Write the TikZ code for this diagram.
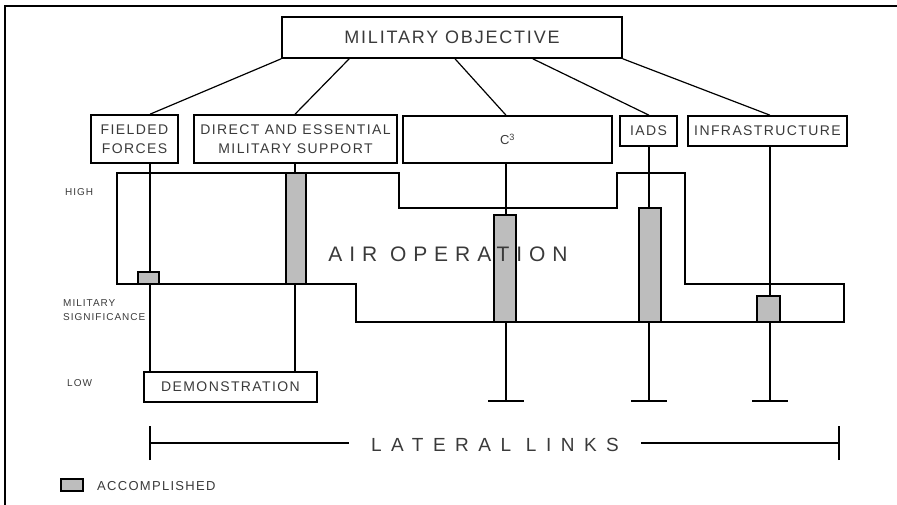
\documentclass[tikz,border=0pt]{standalone}
\usepackage{fontspec}
\setmainfont[LetterSpace=10]{Liberation Sans}
\newfontfamily\airfont[LetterSpace=33]{Liberation Sans}
\newfontfamily\latfont[LetterSpace=50]{Liberation Sans}
\usepackage{tikz}
\usetikzlibrary{calc,positioning}
\definecolor{InkGray}{HTML}{3A3A3A}
\definecolor{AccFill}{HTML}{BDBDBD}
\newcommand{\fsz}[2]{\fontsize{#1}{#2}\selectfont}

\begin{document}
\begin{tikzpicture}[x=1pt, y=-1pt,
  bx/.style={draw, line width=1.6pt, align=center, inner sep=0pt,
             text=InkGray, font=\fsz{14}{19}},
  acc/.style={draw, line width=1.4pt, fill=AccFill, inner sep=0pt},
  lnk/.style={line width=1.2pt},
  side/.style={font=\fsz{10}{14}, text=InkGray, align=left, anchor=west, inner sep=0pt}]
  \useasboundingbox (0,0) rectangle (897,505);
  % frame
  \draw[line width=2pt] (897,6) -- (5,6) -- (5,505);
  % objective and the five target sets
  \node[bx, minimum width=340, minimum height=41, font=\fsz{18}{22}] (obj) at (452,37.5) {MILITARY OBJECTIVE};
  \node[bx, minimum width=87,  minimum height=48] (ff)    at (134.5,139) {FIELDED\\FORCES};
  \node[bx, minimum width=203, minimum height=48] (des)   at (295.5,139) {DIRECT AND ESSENTIAL\\MILITARY SUPPORT};
  \node[bx, minimum width=209, minimum height=47, font=\fsz{13}{15}] (cc) at (507.5,139.5) {C\textsuperscript{3}};
  \node[bx, minimum width=57,  minimum height=30] (iads)  at (648.5,131) {IADS};
  \node[bx, minimum width=159, minimum height=30] (infra) at (767.5,131) {INFRASTRUCTURE};
  \node[bx, minimum width=173, minimum height=30] (demo)  at (230.5,387) {DEMONSTRATION};
  % stems
  \coordinate (ffx)  at (150,0);
  \coordinate (desx) at (295,0);
  \coordinate (ccT)  at (506,401);
  \coordinate (iaT)  at (649,401);
  \coordinate (inT)  at (770,401);
  \draw[lnk] (obj.south west) -- (ff.north -| ffx);
  \draw[lnk] ($(obj.south west)+(68,0)$) -- (des.north -| desx);
  \draw[lnk] ($(obj.south)+(3,0)$) -- (cc.north -| ccT);
  \draw[lnk] ($(obj.south east)+(-90,0)$) -- (iads.north -| iaT);
  \draw[lnk] (obj.south east) -- (infra.north -| inT);
  % air operation envelope
  \draw[line width=1.6pt] (117,173) -- (399,173) -- (399,208) -- (617,208) -- (617,173)
    -- (685,173) -- (685,284) -- (844,284) -- (844,322) -- (356,322) -- (356,284)
    -- (117,284) -- cycle;
  % links down to demonstration and the open ends
  \draw[lnk] (ff.south -| ffx) -- (demo.north -| ffx);
  \draw[lnk] (des.south -| desx) -- (demo.north -| desx);
  \draw[lnk] (cc.south -| ccT) -- (ccT);
  \draw[lnk] (iads.south -| iaT) -- (iaT);
  \draw[lnk] (infra.south -| inT) -- (inT);
  \foreach \t in {ccT,iaT,inT}
    \draw[lnk] ([xshift=-18pt]\t) -- ([xshift=18pt]\t);
  % accomplished bars
  \node[acc, minimum width=21, minimum height=12]  (ffacc)  at (148.5,278) {};
  \node[acc, minimum width=20, minimum height=111] (desacc) at (296,228.5) {};
  \node[acc, minimum width=22, minimum height=107] (ccacc)  at (505,268.5) {};
  \node[acc, minimum width=22, minimum height=114] (iaacc)  at (650,265) {};
  \node[acc, minimum width=23, minimum height=26]  (inacc)  at (768.5,309) {};
  \node[font=\fsz{21}{24}\airfont, text=InkGray] (air) at (448,254) {AIR OPERATION};
  % scale labels
  \node[side] (high) at (65,192) {HIGH};
  \node[side] (sig)  at (63,310) {MILITARY\\SIGNIFICANCE};
  \node[side] (low)  at (67,383) {LOW};
  % lateral links
  \coordinate (latL) at (150,443);
  \coordinate (latR) at (839,443);
  \node[font=\fsz{19}{22}\latfont, text=InkGray, inner xsep=22pt, inner ysep=0pt] (lat) at (495,445) {LATERAL LINKS};
  \draw[lnk] (latL) -- (lat.west |- latL);
  \draw[lnk] (lat.east |- latR) -- (latR);
  \draw[lnk] ([yshift=-17pt]latL) -- ([yshift=17pt]latL);
  \draw[lnk] ([yshift=-17pt]latR) -- ([yshift=17pt]latR);
  % legend
  \node[acc, minimum width=22, minimum height=12] (key) at (72,485) {};
  \node[font=\fsz{13}{15}, text=InkGray, anchor=west, inner sep=0pt] (keytxt) at (97,486) {ACCOMPLISHED};
\end{tikzpicture}
\end{document}
